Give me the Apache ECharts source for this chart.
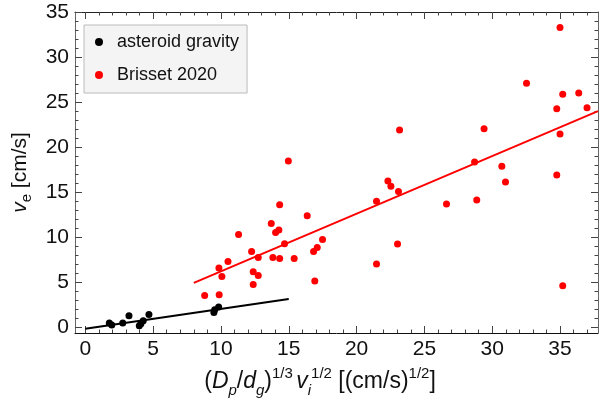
<!doctype html>
<html lang="en">
<head>
<meta charset="UTF-8">
<script src="https://cdn.jsdelivr.net/npm/echarts@6/dist/echarts.min.js"></script>
<title>ejecta speed</title>
</head>
<body style="margin:0">
<div id="main" style="width:612px;height:412px;"></div>
<script>
// data
var asteroidX = [1.77, 1.95, 2.76, 3.22, 3.98, 4.10, 4.27, 4.69, 9.48, 9.54, 9.83];
var asteroidY = [0.51, 0.29, 0.51, 1.32, 0.21, 0.43, 0.76, 1.46, 1.68, 1.98, 2.28];
var brissetX = [14.97, 16.36, 14.33, 13.71, 14.03, 14.27, 11.30, 14.69, 17.49, 17.10, 16.83, 12.26,
    12.75, 13.83, 14.33, 15.40, 10.52, 9.85, 10.07, 12.38, 12.75, 12.38, 16.92, 8.80, 9.87, 21.47,
    21.47, 35.00, 32.53, 35.20, 36.38, 34.76, 36.99, 23.17, 29.40, 35.00, 28.70, 30.71, 30.98,
    34.76, 22.31, 22.53, 23.09, 26.63, 28.86, 23.02, 35.20];
var brissetY = [18.48, 12.39, 13.61, 11.54, 10.54, 10.81, 10.32, 9.29, 9.77, 8.88, 8.44, 8.44,
    7.77, 7.77, 7.66, 7.66, 7.33, 6.60, 5.67, 6.19, 5.78, 4.78, 5.16, 3.57, 3.64, 14.02,
    7.04, 33.29, 27.09, 25.87, 26.01, 24.27, 24.39, 21.92, 22.06, 21.47, 18.37, 17.90, 16.16,
    16.93, 16.27, 15.68, 15.08, 13.72, 14.16, 9.26, 4.64];
// fitted lines (end points)
var asteroidFitX = [0, 15];
var asteroidFitY = [-0.12, 3.17];
var brissetFitX = [8, 37.8];
var brissetFitY = [4.96, 24.0];
// ticks
var xMajor = [0, 5, 10, 15, 20, 25, 30, 35];
var yMajor = [0, 5, 10, 15, 20, 25, 30, 35];
var xMinor = [];
var yMinor = [];
for (var i = 1; i <= 37; i++) { if (i % 5) xMinor.push(i); }
for (var j = 1; j <= 34; j++) { if (j % 5) yMinor.push(j); }

var FONT = 'Liberation Sans, Arial, sans-serif';

function pairs(xs, ys) {
    var out = [];
    for (var k = 0; k < xs.length; k++) out.push([xs[k], ys[k]]);
    return out;
}

// one axis; grid 0 carries the major ticks, grid 1 the minor ones
function axis(pos, grid, ticks, len, label, lineColor) {
    var horiz = pos === 'bottom' || pos === 'top';
    return {
        type: 'value',
        gridIndex: grid,
        position: pos,
        min: horiz ? -0.76 : -0.6,
        max: horiz ? 37.8 : 35,
        splitLine: {show: false},
        axisLine: {show: !!lineColor, onZero: false, lineStyle: {color: lineColor || '#000', width: 1}},
        axisTick: {show: true, inside: true, length: len, customValues: ticks,
            lineStyle: {color: '#444', width: 1}},
        axisLabel: label ? {show: true, customValues: ticks, fontSize: 21, fontFamily: FONT,
            color: '#111', margin: 6} : {show: false}
    };
}

var xNameRich = {
    n: {fontSize: 23, fontFamily: FONT, color: '#111', lineHeight: 32},
    i: {fontSize: 23, fontFamily: FONT, color: '#111', fontStyle: 'italic', lineHeight: 32},
    sb: {fontSize: 15, fontFamily: FONT, color: '#111', fontStyle: 'italic', verticalAlign: 'bottom', lineHeight: 15},
    sp: {fontSize: 15, fontFamily: FONT, color: '#111', verticalAlign: 'top', lineHeight: 15}
};
var yNameRich = {
    n: {fontSize: 21, fontFamily: FONT, color: '#111', lineHeight: 30},
    i: {fontSize: 21, fontFamily: FONT, color: '#111', fontStyle: 'italic', lineHeight: 30},
    sb: {fontSize: 15, fontFamily: FONT, color: '#111', verticalAlign: 'bottom', lineHeight: 15}
};

var xMain = axis('bottom', 0, xMajor, 7, true, '#111');
xMain.name = '{n|(}{i|D}{sb|p}{n|/}{i|d}{sb|g}{n|)}{sp|1/3} {i|v}{sb|i}{sp|1/2}{n| [(cm/s)}{sp|1/2}{n|]}';
xMain.nameLocation = 'middle';
xMain.nameGap = 33;
xMain.nameTextStyle = {rich: xNameRich, padding: [0, 33, 0, 0]};

var yMain = axis('left', 0, yMajor, 7, true, '#666');
yMain.name = '{i|v}{sb|e}{n| [cm/s]}';
yMain.nameLocation = 'middle';
yMain.nameGap = 36;
yMain.nameTextStyle = {rich: yNameRich};

var gridBox = {left: 75, right: 14, top: 12, bottom: 79, containLabel: false};

var myChart = echarts.init(document.getElementById('main'));
var option = {
    animation: false,
    backgroundColor: '#fff',
    grid: [gridBox, gridBox],
    xAxis: [
        xMain,
        axis('top', 0, xMajor, 7, false, '#222'),
        axis('bottom', 1, xMinor, 3.5, false, null),
        axis('top', 1, xMinor, 3.5, false, null)
    ],
    yAxis: [
        yMain,
        axis('right', 0, yMajor, 7, false, '#666'),
        axis('left', 1, yMinor, 3.5, false, null),
        axis('right', 1, yMinor, 3.5, false, null)
    ],
    legend: {
        data: ['asteroid gravity', 'Brisset 2020'],
        orient: 'vertical',
        left: 84,
        top: 25,
        icon: 'circle',
        itemWidth: 8,
        itemHeight: 8,
        itemGap: 15,
        padding: [8, 8, 9, 11],
        backgroundColor: '#f4f4f4',
        borderColor: '#bbb',
        borderWidth: 1,
        textStyle: {fontSize: 18, fontFamily: FONT, color: '#111', padding: [0, 0, 0, 9]}
    },
    series: [
        {
            name: 'asteroid gravity-fit', type: 'line', showSymbol: false, silent: true,
            data: pairs(asteroidFitX, asteroidFitY),
            lineStyle: {color: '#000', width: 2}
        },
        {
            name: 'Brisset 2020-fit', type: 'line', showSymbol: false, silent: true,
            data: pairs(brissetFitX, brissetFitY),
            lineStyle: {color: '#ff0000', width: 2}
        },
        {
            name: 'asteroid gravity', type: 'scatter', symbolSize: 7,
            itemStyle: {color: '#000', opacity: 1},
            data: pairs(asteroidX, asteroidY)
        },
        {
            name: 'Brisset 2020', type: 'scatter', symbolSize: 7,
            itemStyle: {color: '#ff0000', opacity: 1},
            data: pairs(brissetX, brissetY)
        }
    ]
};
myChart.setOption(option);
</script>
</body>
</html>
